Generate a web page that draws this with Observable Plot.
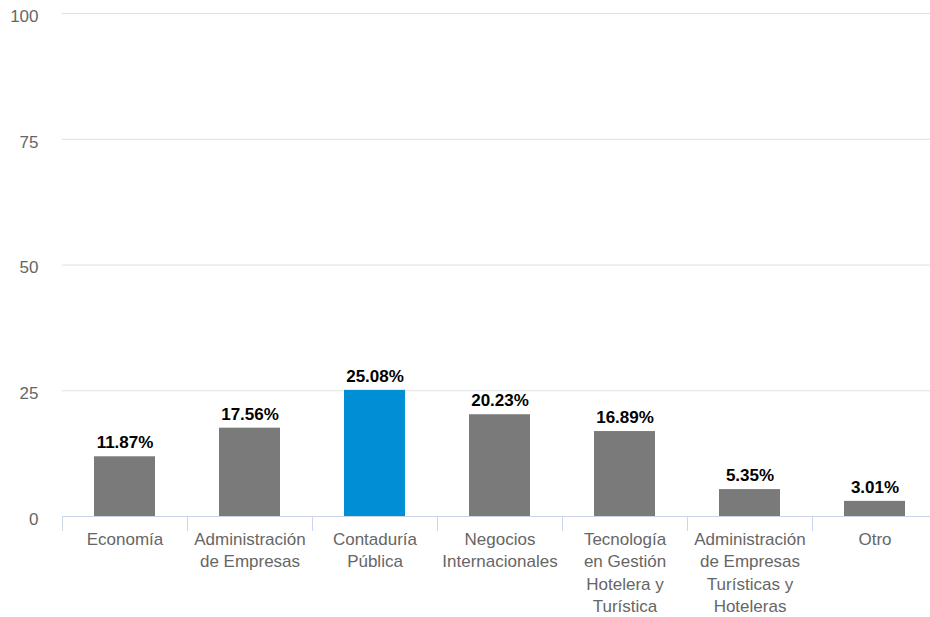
<!DOCTYPE html>
<html>
<head>
<meta charset="utf-8">
<script src="https://cdn.jsdelivr.net/npm/d3@7"></script>
<script src="https://cdn.jsdelivr.net/npm/@observablehq/plot@0.6"></script>
<style>
  html, body { margin: 0; padding: 0; background: #fff; }
  #chart svg { display: block; }
</style>
</head>
<body>
<div id="chart"></div>
<script>
const categories = [
  "Economía",
  "Administración de Empresas",
  "Contaduría Pública",
  "Negocios Internacionales",
  "Tecnología en Gestión Hotelera y Turística",
  "Administración de Empresas Turísticas y Hoteleras",
  "Otro"
];
const tickLabels = [
  "Economía",
  "Administración\nde Empresas",
  "Contaduría\nPública",
  "Negocios\nInternacionales",
  "Tecnología\nen Gestión\nHotelera y\nTurística",
  "Administración\nde Empresas\nTurísticas y\nHoteleras",
  "Otro"
];
const values = [11.87, 17.56, 25.08, 20.23, 16.89, 5.35, 3.01];
const highlighted = "Contaduría Pública";
const yTicks = [0, 25, 50, 75, 100];

const data = categories.map((c, i) => ({cat: c, value: values[i]}));
const labelOf = new Map(categories.map((c, i) => [c, tickLabels[i]]));

const chart = Plot.plot({
  width: 930,
  height: 617,
  marginTop: 13,
  marginBottom: 101,
  marginLeft: 62,
  marginRight: 0,
  style: {fontFamily: "'Liberation Sans', Arial, Helvetica, sans-serif", fontSize: "17px", background: "#fff"},
  x: {type: "band", domain: categories, range: [62, 937], padding: 0},
  y: {domain: [0, 100], ticks: yTicks},
  marks: [
    Plot.gridY(yTicks.filter(t => t > 0), {stroke: "#e0e0e0", strokeOpacity: 1, strokeWidth: 1}),
    Plot.axisY(yTicks, {tickSize: 0, tickPadding: 24, fill: "#666", fontSize: 17, dy: 3, label: null}),
    Plot.barY(data, {x: "cat", y: "value", insetLeft: 32, insetRight: 32,
      fill: d => d.cat === highlighted ? "#008fd5" : "#7a7a7a"}),
    Plot.ruleY([0], {stroke: "#ccd6eb", strokeWidth: 1}),
    Plot.ruleX(categories, {x: d => d, dx: -62.5, y1: 0, y2: -3, stroke: "#ccd6eb", strokeWidth: 1}),
    Plot.axisX({tickSize: 0, tickPadding: 12, fill: "#666", fontSize: 17, lineHeight: 1.33,
      tickFormat: d => labelOf.get(d), label: null}),
    Plot.text(data, {x: "cat", y: "value", text: d => d.value.toFixed(2) + "%",
      dy: -14, lineAnchor: "middle", fontWeight: "bold", fontSize: 17, fill: "#000"})
  ]
});
document.getElementById("chart").appendChild(chart);
</script>
</body>
</html>
